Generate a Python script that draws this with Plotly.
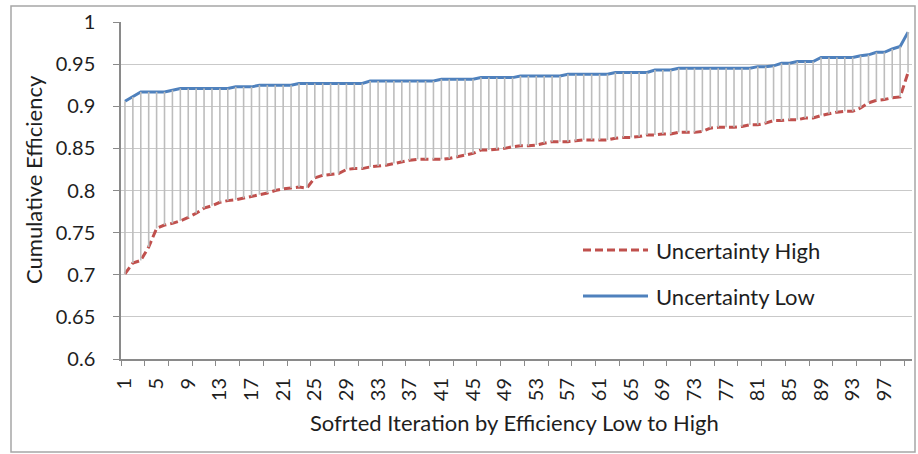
import plotly.graph_objects as go

# Iterations sorted by efficiency (1..100)
iterations = list(range(1, 101))

uncertainty_low = [
    0.906, 0.911, 0.917, 0.917, 0.917, 0.917, 0.919, 0.921, 0.921, 0.921,
    0.921, 0.921, 0.921, 0.921, 0.923, 0.923, 0.923, 0.925, 0.925, 0.925,
    0.925, 0.925, 0.927, 0.927, 0.927, 0.927, 0.927, 0.927, 0.927, 0.927,
    0.927, 0.930, 0.930, 0.930, 0.930, 0.930, 0.930, 0.930, 0.930, 0.930,
    0.932, 0.932, 0.932, 0.932, 0.932, 0.934, 0.934, 0.934, 0.934, 0.934,
    0.936, 0.936, 0.936, 0.936, 0.936, 0.936, 0.938, 0.938, 0.938, 0.938,
    0.938, 0.938, 0.940, 0.940, 0.940, 0.940, 0.940, 0.943, 0.943, 0.943,
    0.945, 0.945, 0.945, 0.945, 0.945, 0.945, 0.945, 0.945, 0.945, 0.945,
    0.947, 0.947, 0.948, 0.951, 0.951, 0.953, 0.953, 0.953, 0.958, 0.958,
    0.958, 0.958, 0.958, 0.960, 0.961, 0.964, 0.964, 0.968, 0.971, 0.988,
]

uncertainty_high = [
    0.701, 0.714, 0.717, 0.733, 0.755, 0.759, 0.761, 0.764, 0.768, 0.773,
    0.779, 0.782, 0.786, 0.788, 0.789, 0.791, 0.793, 0.795, 0.797, 0.800,
    0.802, 0.803, 0.804, 0.803, 0.815, 0.818, 0.819, 0.820, 0.825, 0.826,
    0.826, 0.828, 0.829, 0.830, 0.832, 0.834, 0.836, 0.837, 0.837, 0.837,
    0.837, 0.838, 0.840, 0.842, 0.844, 0.848, 0.848, 0.849, 0.850, 0.852,
    0.853, 0.853, 0.854, 0.856, 0.858, 0.858, 0.858, 0.859, 0.860, 0.860,
    0.860, 0.860, 0.862, 0.863, 0.863, 0.864, 0.866, 0.866, 0.867, 0.867,
    0.869, 0.869, 0.869, 0.870, 0.874, 0.875, 0.875, 0.875, 0.876, 0.878,
    0.878, 0.880, 0.883, 0.883, 0.884, 0.884, 0.886, 0.886, 0.889, 0.891,
    0.893, 0.894, 0.894, 0.898, 0.904, 0.907, 0.908, 0.910, 0.911, 0.940,
]

x_label_vals = list(range(1, 101, 4))
x_label_text = [str(v) for v in x_label_vals]
y_tick_vals = [0.6, 0.65, 0.7, 0.75, 0.8, 0.85, 0.9, 0.95, 1.0]
y_tick_text = ["0.6", "0.65", "0.7", "0.75", "0.8", "0.85", "0.9", "0.95", "1"]

FONT = "Lato"
TEXT = "#1e1e1e"
BLUE = "#4f81bd"
RED = "#c0504d"
GRID = "#c9c9c9"
AXIS = "#8a8a8a"
TICK_SIZE = 20
LABEL_SIZE = 22

# high-low connector segments between the two series
hl_x, hl_y = [], []
for xi, lo, hi in zip(iterations, uncertainty_high, uncertainty_low):
    hl_x += [xi, xi, None]
    hl_y += [lo, hi, None]

fig = go.Figure()
fig.add_trace(go.Scatter(
    x=hl_x, y=hl_y, mode="lines", xaxis="x2",
    line=dict(color="#bdbdbd", width=1.6),
    hoverinfo="skip", showlegend=False,
))
fig.add_trace(go.Scatter(
    x=iterations, y=uncertainty_high, mode="lines", name="Uncertainty High",
    line=dict(color=RED, width=3, dash="8px,4px"), showlegend=False,
))
fig.add_trace(go.Scatter(
    x=iterations, y=uncertainty_low, mode="lines", name="Uncertainty Low",
    line=dict(color=BLUE, width=3), showlegend=False,
))

W, H = 918, 454
L, R, T, B = 121, 6, 22, 95
pw, ph = W - L - R, H - T - B


def px(xp):
    return (xp - L) / pw


def py(yp):
    return (H - B - yp) / ph


tick_boundaries = [i + 0.5 for i in range(0, 100, 3)]

fig.update_layout(
    width=W, height=H,
    margin=dict(l=L, r=R, t=T, b=B),
    paper_bgcolor="white", plot_bgcolor="white",
    font=dict(family=FONT, size=TICK_SIZE, color=TEXT),
    xaxis=dict(
        range=[0.5, 100.5], tickvals=tick_boundaries, showticklabels=False,
        ticks="outside", ticklen=5, tickcolor=AXIS, tickwidth=1.2,
        showline=True, linecolor=AXIS, linewidth=1.5,
        showgrid=False, zeroline=False,
    ),
    xaxis2=dict(
        range=[0.5, 100.5], overlaying="x", anchor="y", side="bottom",
        tickvals=x_label_vals, ticktext=x_label_text, tickangle=-90,
        ticks="", showline=False, showgrid=False, zeroline=False,
        ticklabelstandoff=14,
        tickfont=dict(family=FONT, size=TICK_SIZE, color=TEXT),
    ),
    yaxis=dict(
        range=[0.6, 1.0], tickvals=y_tick_vals, ticktext=y_tick_text,
        ticks="outside", ticklen=6, tickcolor=AXIS, tickwidth=1.2,
        showline=True, linecolor=AXIS, linewidth=1.5,
        showgrid=True, gridcolor=GRID, gridwidth=1.2, zeroline=False,
        ticklabelstandoff=14,
        tickfont=dict(family=FONT, size=TICK_SIZE, color=TEXT),
    ),
    shapes=[
        dict(type="rect", xref="paper", yref="paper",
             x0=px(11), x1=px(915), y0=py(452), y1=py(6),
             line=dict(color="#a6a6a6", width=1.5), layer="below"),
        dict(type="line", xref="paper", yref="paper",
             x0=px(583), x1=px(648), y0=py(250), y1=py(250),
             line=dict(color=RED, width=3, dash="8px,4px")),
        dict(type="line", xref="paper", yref="paper",
             x0=px(583), x1=px(648), y0=py(296), y1=py(296),
             line=dict(color=BLUE, width=3)),
    ],
    annotations=[
        dict(text="Uncertainty High", xref="paper", yref="paper",
             x=px(654), y=py(250), xanchor="left", yanchor="middle",
             showarrow=False,
             font=dict(family=FONT, size=LABEL_SIZE, color=TEXT)),
        dict(text="Uncertainty Low", xref="paper", yref="paper",
             x=px(654), y=py(296), xanchor="left", yanchor="middle",
             showarrow=False,
             font=dict(family=FONT, size=LABEL_SIZE, color=TEXT)),
        dict(text="Cumulative Efficiency", xref="paper", yref="paper",
             x=px(33), y=py(180), xanchor="center", yanchor="middle",
             textangle=-90, showarrow=False,
             font=dict(family=FONT, size=LABEL_SIZE, color=TEXT)),
        dict(text="Sofrted Iteration by Efficiency Low to High",
             xref="paper", yref="paper",
             x=px(514), y=py(423), xanchor="center", yanchor="middle",
             showarrow=False,
             font=dict(family=FONT, size=LABEL_SIZE, color=TEXT)),
    ],
)

fig.write_html("out.html")
